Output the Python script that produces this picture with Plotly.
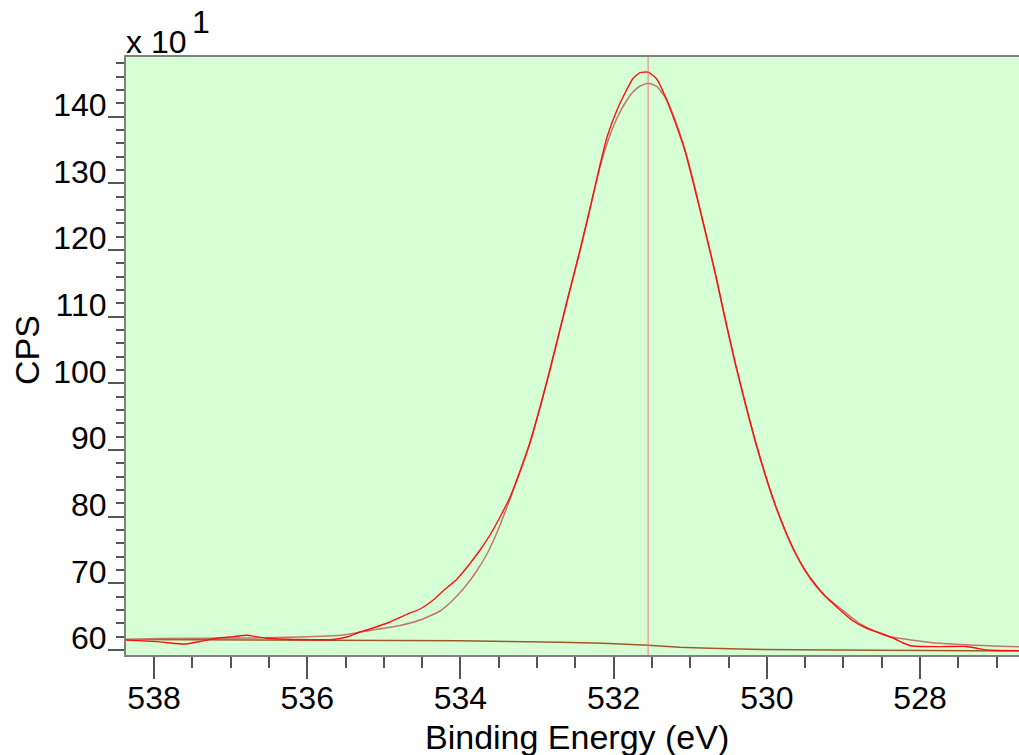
import plotly.graph_objects as go

# ---- data (binding energy in eV, intensity in units of 10 CPS) ----
data_be = [538.366, 537.965, 537.595, 537.399, 537.181, 536.965, 536.790, 536.659, 536.529,
           536.094, 535.659, 535.484, 535.311, 535.223, 534.919, 534.701, 534.527, 534.371,
           534.227, 534.057, 533.901, 533.744, 533.614, 533.483, 533.352, 533.222, 533.091,
           532.961, 532.830, 532.700, 532.569, 532.439, 532.308, 532.178, 532.086, 531.956,
           531.851, 531.747, 531.655, 531.547, 531.437, 531.329, 531.198, 531.068, 530.937,
           530.807, 530.676, 530.546, 530.415, 530.285, 530.154, 530.023, 529.893, 529.762,
           529.632, 529.501, 529.371, 529.240, 529.044, 528.875, 528.705, 528.522, 528.352,
           528.222, 528.104, 527.739, 527.390, 527.260, 527.129, 526.708]
data_cps = [61.50, 61.25, 60.90, 61.28, 61.76, 62.00, 62.21, 62.00, 61.77,
            61.58, 61.58, 61.95, 62.70, 63.00, 64.20, 65.36, 66.15, 67.35,
            68.85, 70.50, 72.60, 75.00, 77.25, 79.95, 82.95, 86.85, 91.20,
            96.45, 102.15, 108.15, 114.15, 120.00, 126.30, 132.75, 136.95, 141.00,
            143.55, 145.73, 146.60, 146.66, 145.65, 143.10, 139.20, 134.85, 129.00,
            123.00, 116.70, 109.80, 103.20, 97.20, 91.50, 86.40, 81.90, 78.00,
            74.70, 72.00, 69.90, 68.10, 66.00, 64.35, 63.30, 62.55, 61.80,
            61.05, 60.60, 60.50, 60.53, 60.26, 60.00, 59.90]

fit_be = [538.366, 537.922, 536.747, 536.094, 535.533, 535.223, 534.789, 534.527, 534.266,
          534.110, 533.953, 533.796, 533.640, 533.509, 533.392, 533.265, 533.222, 533.091,
          532.961, 532.830, 532.700, 532.569, 532.439, 532.308, 532.178, 532.047, 531.943,
          531.851, 531.760, 531.655, 531.547, 531.437, 531.329, 531.237, 531.133, 531.042,
          530.937, 530.807, 530.676, 530.546, 530.415, 530.285, 530.154, 530.023, 529.893,
          529.762, 529.632, 529.501, 529.371, 529.240, 529.044, 528.783, 528.435, 527.739,
          527.043, 526.708]
fit_cps = [61.58, 61.73, 61.80, 61.95, 62.25, 62.85, 63.68, 64.50, 65.85,
           67.35, 69.30, 71.70, 74.70, 78.00, 81.45, 85.35, 86.70, 91.05,
           96.30, 102.00, 108.00, 114.00, 119.85, 126.15, 132.45, 137.25, 140.10,
           142.05, 143.55, 144.60, 145.01, 144.53, 142.95, 140.70, 137.40, 133.95,
           129.30, 122.85, 116.55, 109.65, 103.05, 97.05, 91.35, 86.25, 81.75,
           77.85, 74.55, 71.85, 69.75, 68.10, 66.30, 63.90, 62.10, 61.00,
           60.60, 60.50]

base_be = [538.366, 536.094, 534.005, 532.700, 532.134, 531.551, 531.133, 530.742,
           530.219, 529.136, 527.999, 526.708]
base_cps = [61.58, 61.50, 61.40, 61.17, 61.00, 60.70, 60.40, 60.25,
            60.10, 60.00, 59.90, 59.85]

peak_position = 531.55

x_tick_vals = [538, 536, 534, 532, 530, 528]
x_tick_labels = ["538", "536", "534", "532", "530", "528"]
y_tick_vals = [60, 70, 80, 90, 100, 110, 120, 130, 140]
y_tick_labels = ["60", "70", "80", "90", "100", "110", "120", "130", "140"]

FONT = "Liberation Sans, Arial, sans-serif"

fig = go.Figure()
fig.add_trace(go.Scatter(x=base_be, y=base_cps, mode="lines",
                         line=dict(color="#a05a28", width=1.5), hoverinfo="skip"))
fig.add_trace(go.Scatter(x=fit_be, y=fit_cps, mode="lines",
                         line=dict(color="#c07868", width=1.5, shape="spline", smoothing=0.5),
                         hoverinfo="skip"))
fig.add_trace(go.Scatter(x=data_be, y=data_cps, mode="lines",
                         line=dict(color="#ff1010", width=1.4, shape="spline", smoothing=0.5),
                         hoverinfo="skip"))

fig.add_shape(type="line", x0=peak_position, x1=peak_position, y0=0, y1=1,
              xref="x", yref="paper", line=dict(color="#ff7878", width=1))

fig.update_layout(
    width=1019, height=755,
    margin=dict(l=126, r=0, t=57, b=100),
    paper_bgcolor="white",
    plot_bgcolor="#d6ffd6",
    showlegend=False,
    font=dict(family=FONT, color="black", size=32),
)

fig.update_xaxes(
    range=[538.366, 526.708],
    tickvals=x_tick_vals, ticktext=x_tick_labels,
    ticks="outside", ticklen=22, tickwidth=1.5, tickcolor="#555555",
    minor=dict(dtick=0.5, tick0=0, ticks="outside", ticklen=11, tickwidth=1.5, tickcolor="#555555"),
    showgrid=False, zeroline=False,
    showline=True, linecolor="#808080", linewidth=2, mirror=True,
    ticklabelstandoff=-8,
    tickfont=dict(family=FONT, size=32, color="black"),
)
fig.update_yaxes(
    range=[59.25, 148.95],
    tickvals=y_tick_vals, ticktext=y_tick_labels,
    ticks="outside", ticklen=16, tickwidth=1.5, tickcolor="#555555",
    minor=dict(dtick=2, tick0=0, ticks="outside", ticklen=8, tickwidth=1.5, tickcolor="#555555"),
    showgrid=False, zeroline=False,
    showline=True, linecolor="#808080", linewidth=2,
    ticklabelshift=-12, ticklabelstandoff=-5,
    tickfont=dict(family=FONT, size=32, color="black"),
)

fig.add_annotation(text="CPS", xref="paper", yref="paper", x=-0.1109, y=0.51,
                   textangle=-90, showarrow=False, xanchor="center", yanchor="middle",
                   font=dict(family=FONT, size=34, color="black"))
fig.add_annotation(text="Binding Energy (eV)", xref="paper", yref="paper", x=0.505, y=-0.137,
                   showarrow=False, xanchor="center", yanchor="middle",
                   font=dict(family=FONT, size=34, color="black"))
fig.add_annotation(text="x 10", xref="paper", yref="paper", x=-0.0022, y=1.0251,
                   showarrow=False, xanchor="left", yanchor="middle",
                   font=dict(family=FONT, size=32, color="black"))
fig.add_annotation(text="1", xref="paper", yref="paper", x=0.0717, y=1.058,
                   showarrow=False, xanchor="left", yanchor="middle",
                   font=dict(family=FONT, size=32, color="black"))

fig.write_html("out.html")
